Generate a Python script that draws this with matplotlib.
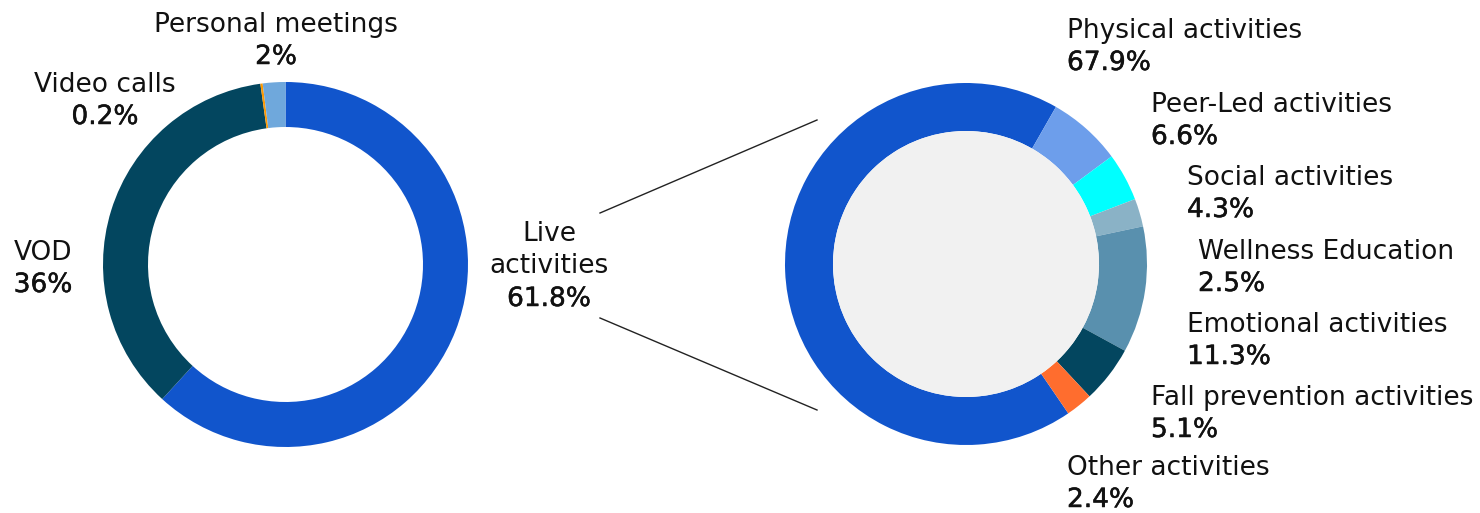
import matplotlib
matplotlib.use("Agg")
import matplotlib.pyplot as plt
import matplotlib.patheffects as pe

# overall channel split
main_labels = ["Live\nactivities", "VOD", "Video calls", "Personal meetings"]
main_values = [61.8, 36, 0.2, 2]
main_text = ["61.8%", "36%", "0.2%", "2%"]
main_colors = ["#1155CC", "#03465F", "#FF9900", "#6FA8DC"]

# breakdown of live activities
live_labels = ["Physical activities", "Peer-Led activities", "Social activities",
               "Wellness Education", "Emotional activities",
               "Fall prevention activities", "Other activities"]
live_values = [67.9, 6.6, 4.3, 2.5, 11.3, 5.1, 2.4]
live_text = ["67.9%", "6.6%", "4.3%", "2.5%", "11.3%", "5.1%", "2.4%"]
live_colors = ["#1155CC", "#6D9EEB", "#00FFFF", "#8AB2C6", "#5990AE",
               "#03465F", "#FF6D2E"]

W, H = 1480, 513
plt.rcParams['font.family'] = ['DejaVu Sans']
fig = plt.figure(figsize=(W / 100, H / 100), dpi=100)
ax = fig.add_axes([0, 0, 1, 1])

def Y(y):
    # pixel row (from top) -> data y
    return H - y - 3

# left donut
ax.pie(main_values, colors=main_colors, startangle=90, counterclock=False,
       center=(285.5, H - 264.5), radius=182.5,
       wedgeprops=dict(width=45, linewidth=0))

# right donut, grey disc in the hole
ax.pie(live_values, colors=live_colors, startangle=-55.6, counterclock=False,
       center=(966, H - 264), radius=181,
       wedgeprops=dict(width=48, linewidth=0))
ax.add_patch(plt.Circle((966, H - 264), 133, color="#F1F1F1", lw=0))

# zoom lines
ax.plot([600, 817], [H - 213, H - 120], color="#222222", lw=1)
ax.plot([600, 817], [H - 318, H - 410], color="#222222", lw=1)

fs = 19
ink = "#111111"
bold_fx = [pe.withStroke(linewidth=0.35, foreground=ink)]

def label(x, y, name, pct, ha="left"):
    ax.text(x, Y(y), name, fontsize=fs, ha=ha, va="center", color=ink)
    ax.text(x, Y(y + 32), pct, fontsize=fs, ha=ha, va="center",
            color=ink, path_effects=bold_fx)

label(276, 22, main_labels[3], main_text[3], ha="center")
label(105, 82, main_labels[2], main_text[2], ha="center")
label(43, 250, main_labels[1], main_text[1], ha="center")
for i, line in enumerate(main_labels[0].split("\n")):
    ax.text(549, Y(231 + 32 * i), line, fontsize=fs, ha="center",
            va="center", color=ink)
ax.text(549, Y(296), main_text[0], fontsize=fs, ha="center", va="center",
        color=ink, path_effects=bold_fx)

xs = [1067, 1151, 1187, 1198, 1187, 1151, 1067]
ys = [28, 102, 175, 249, 322, 395, 465]
for x, y, n, p in zip(xs, ys, live_labels, live_text):
    label(x, y, n, p)

ax.set_xlim(0, W)
ax.set_ylim(0, H)
ax.set_aspect("auto")
ax.axis("off")
fig.savefig("out.png", dpi=100)
